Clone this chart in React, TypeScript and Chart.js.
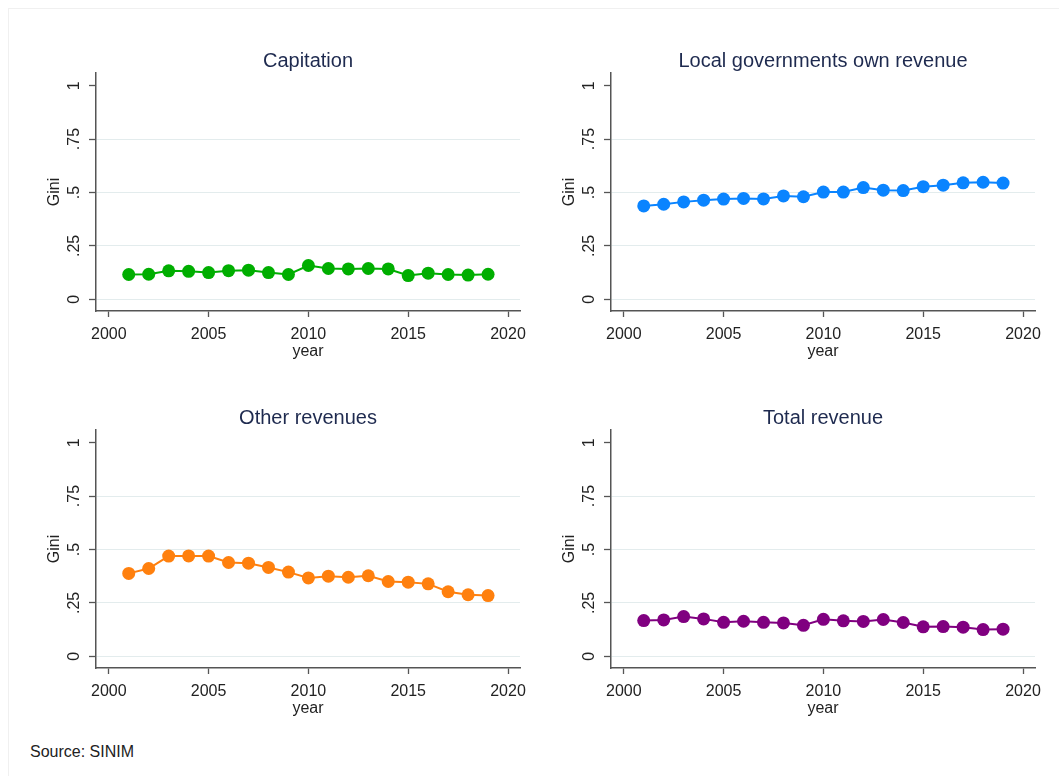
import React, { useEffect, useRef } from 'react';
import { Chart, registerables } from 'chart.js';

Chart.register(...registerables);

const years = [2001, 2002, 2003, 2004, 2005, 2006, 2007, 2008, 2009, 2010, 2011, 2012, 2013, 2014, 2015, 2016, 2017, 2018, 2019];
const capitation = [0.116, 0.117, 0.133, 0.131, 0.125, 0.134, 0.136, 0.125, 0.116, 0.158, 0.144, 0.142, 0.144, 0.142, 0.111, 0.122, 0.116, 0.113, 0.117];
const ownRevenue = [0.437, 0.445, 0.456, 0.464, 0.469, 0.472, 0.470, 0.484, 0.480, 0.502, 0.502, 0.523, 0.511, 0.509, 0.527, 0.534, 0.545, 0.548, 0.544];
const otherRevenues = [0.388, 0.411, 0.469, 0.470, 0.469, 0.439, 0.436, 0.416, 0.394, 0.367, 0.375, 0.370, 0.377, 0.350, 0.347, 0.339, 0.302, 0.288, 0.284];
const totalRevenue = [0.167, 0.170, 0.186, 0.175, 0.159, 0.164, 0.159, 0.156, 0.145, 0.173, 0.166, 0.163, 0.172, 0.158, 0.138, 0.139, 0.136, 0.125, 0.127];

const xTickValues = [2000, 2005, 2010, 2015, 2020];
const yTickValues = [0, 0.25, 0.5, 0.75, 1];
const yTickLabels = ['0', '.25', '.5', '.75', '1'];
const panelTitles = ['Capitation', 'Local governments own revenue', 'Other revenues', 'Total revenue'];
const panelColors = ['#00ae00', '#0a84ff', '#ff800e', '#800080'];
const yAxisTitle = 'Gini';
const xAxisTitle = 'year';
const sourceNote = 'Source: SINIM';

const FONT = '"Liberation Sans", Arial, sans-serif';
const CANVAS_W = 500;
const CANVAS_H = 330;

type PanelProps = { title: string; values: number[]; color: string; left: number; top: number };

function Panel({ title, values, color, left, top }: PanelProps) {
  const ref = useRef<HTMLCanvasElement | null>(null);
  useEffect(() => {
    if (!ref.current) return;
    const chart = new Chart(ref.current, {
      type: 'line',
      data: {
        datasets: [
          {
            data: years.map((yr, i) => ({ x: yr, y: values[i] })),
            borderColor: color,
            backgroundColor: color,
            borderWidth: 2,
            pointRadius: 6.5,
            pointBorderWidth: 0,
            pointBackgroundColor: color,
            pointStyle: 'circle',
            tension: 0,
            clip: false,
          },
        ],
      },
      options: {
        animation: false,
        responsive: false,
        maintainAspectRatio: false,
        devicePixelRatio: 1,
        layout: { padding: { left: 0, top: 0, bottom: 0, right: 20 }, autoPadding: false },
        plugins: {
          legend: { display: false },
          tooltip: { enabled: false },
          title: {
            display: true,
            text: title,
            fullSize: false,
            color: '#1e2a4f',
            font: { family: FONT, size: 20, weight: 'normal', lineHeight: 1.2 },
            padding: { top: 9, bottom: 0 },
          },
        },
        scales: {
          x: {
            type: 'linear',
            min: 1999.36,
            max: 2020.6,
            afterBuildTicks: (s: any) => {
              s.ticks = xTickValues.map((v) => ({ value: v }));
            },
            afterFit: (s: any) => {
              s.height = 59;
              s.paddingLeft = 0;
              s.paddingRight = 0;
            },
            ticks: {
              color: '#222',
              font: { family: FONT, size: 16, lineHeight: 1.2 },
              padding: 8,
              maxRotation: 0,
              minRotation: 0,
              autoSkip: false,
              callback: (v: any) => String(v),
            },
            grid: {
              drawOnChartArea: false,
              drawTicks: true,
              tickLength: 6,
              tickColor: '#555',
              tickWidth: 1.3,
            },
            border: { display: true, color: '#555', width: 1.5 },
            title: {
              display: true,
              text: xAxisTitle,
              color: '#222',
              font: { family: FONT, size: 16, lineHeight: 1.2 },
              padding: { top: 0, bottom: 8.5 },
            },
          },
          y: {
            type: 'linear',
            min: -0.055,
            max: 1.0595,
            afterBuildTicks: (s: any) => {
              s.ticks = yTickValues.map((v) => ({ value: v }));
            },
            afterFit: (s: any) => {
              s.width = 56;
              s.paddingTop = 0;
              s.paddingBottom = 0;
            },
            ticks: {
              color: '#222',
              font: { family: FONT, size: 16, lineHeight: 1.2 },
              minRotation: 90,
              maxRotation: 90,
              crossAlign: 'center',
              padding: 3,
              autoSkip: false,
              callback: (v: any) => {
                const idx = yTickValues.indexOf(Number(v));
                return idx >= 0 ? yTickLabels[idx] : '';
              },
            },
            grid: {
              color: (ctx: any) => (ctx.tick && ctx.tick.value === 1 ? 'rgba(0,0,0,0)' : '#e3eced'),
              lineWidth: 1,
              drawTicks: true,
              tickLength: 7,
              tickColor: '#555',
              tickWidth: 1.3,
            },
            border: { display: true, color: '#555', width: 1.5 },
            title: {
              display: true,
              text: yAxisTitle,
              color: '#222',
              font: { family: FONT, size: 16, lineHeight: 1.2 },
              padding: { top: 5.4, bottom: 0 },
            },
          },
        },
      } as any,
    });
    return () => chart.destroy();
  }, [title, values, color]);
  return (
    <canvas
      ref={ref}
      width={CANVAS_W}
      height={CANVAS_H}
      style={{ position: 'absolute', left, top, width: CANVAS_W, height: CANVAS_H }}
    />
  );
}

export default function App() {
  const seriesList = [capitation, ownRevenue, otherRevenues, totalRevenue];
  const positions = [
    [40, 40],
    [555, 40],
    [40, 397],
    [555, 397],
  ];
  return (
    <div
      style={{
        position: 'absolute',
        left: 0,
        top: 0,
        width: 1059,
        height: 776,
        overflow: 'hidden',
        background: '#ffffff',
      }}
    >
      <div
        style={{
          position: 'absolute',
          left: 8,
          top: 8,
          width: 1060,
          height: 780,
          borderTop: '1px solid #f0f0f0',
          borderLeft: '1px solid #f0f0f0',
        }}
      />
      {panelTitles.map((t, i) => (
        <Panel
          key={t}
          title={t}
          values={seriesList[i]}
          color={panelColors[i]}
          left={positions[i][0]}
          top={positions[i][1]}
        />
      ))}
      <div
        style={{
          position: 'absolute',
          left: 30,
          top: 743,
          fontFamily: FONT,
          fontSize: 16,
          lineHeight: '18px',
          color: '#222',
          whiteSpace: 'nowrap',
        }}
      >
        {sourceNote}
      </div>
    </div>
  );
}
